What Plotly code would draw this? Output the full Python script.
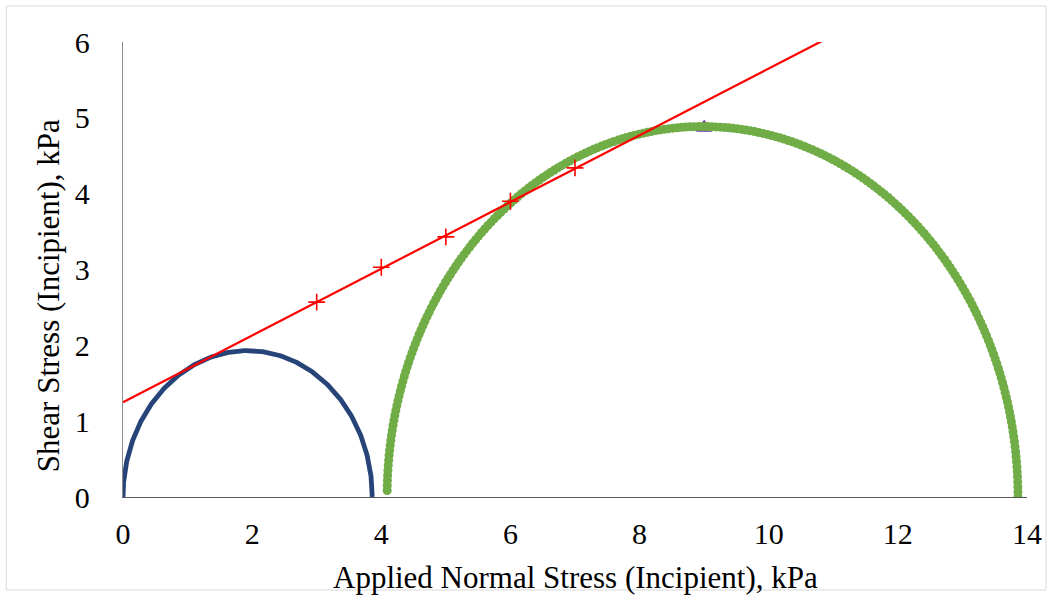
import numpy as np
import plotly.graph_objects as go

# Mohr circles: principal stresses (kPa)
blue_sigma = [0.0, 3.86]
green_sigma = [4.09, 13.86]

# Measured failure points (normal stress, shear stress)
fail_x = [3, 4, 5, 6, 7]
fail_y = [2.57, 3.03, 3.43, 3.90, 4.34]

# Failure envelope (trend line)
trend_intercept = 1.25
trend_slope = 0.44
trend_x = [0, 14]

# Peak marker
peak_x = [9]
peak_y = [4.87]

x_ticks = [0, 2, 4, 6, 8, 10, 12, 14]
y_ticks = [0, 1, 2, 3, 4, 5, 6]


def mohr(s3, s1, n, a0=0.0, a1=180.0):
    c = (s1 + s3) / 2
    r = (s1 - s3) / 2
    t = np.radians(np.linspace(a0, a1, n))
    return c + r * np.cos(t), r * np.sin(t)


bx, by = mohr(blue_sigma[0], blue_sigma[1], 300)
gx, gy = mohr(green_sigma[0], green_sigma[1], 230, 0, 179)
ty = [trend_intercept + trend_slope * v for v in trend_x]

FONT = "Liberation Serif, Times New Roman, serif"

fig = go.Figure()
fig.add_trace(go.Scatter(x=bx, y=by, mode="lines",
                         line=dict(color="#264478", width=4.8),
                         hoverinfo="skip"))
fig.add_trace(go.Scatter(x=peak_x, y=peak_y, mode="markers",
                         marker=dict(symbol="triangle-up-open", size=13,
                                     color="#7030A0", line=dict(width=1.8))))
fig.add_trace(go.Scatter(x=gx, y=gy, mode="markers",
                         marker=dict(symbol="circle", size=9, color="#70AD47")))
fig.add_trace(go.Scatter(x=trend_x, y=ty, mode="lines",
                         line=dict(color="#FF0000", width=2.2)))
fig.add_trace(go.Scatter(x=fail_x, y=fail_y, mode="markers",
                         marker=dict(symbol="cross-thin-open", size=12,
                                     color="#FF0000", line=dict(width=1.6, color="#FF0000"))))

fig.update_layout(
    width=1054, height=596,
    margin=dict(l=123, r=25, t=42, b=99),
    paper_bgcolor="white", plot_bgcolor="white",
    showlegend=False,
    font=dict(family=FONT, size=30, color="#000000"),
    xaxis=dict(range=[0, 14], tickvals=x_ticks, showgrid=False, zeroline=False,
               showline=True, linecolor="#595959", linewidth=1.3,
               ticks="", ticklabelstandoff=10,
               tickfont=dict(family=FONT, size=30)),
    yaxis=dict(range=[0, 6], tickvals=y_ticks, showgrid=False, zeroline=False,
               showline=True, linecolor="#8C8C8C", linewidth=1.3,
               ticks="", ticklabelstandoff=26,
               tickfont=dict(family=FONT, size=30)),
    annotations=[
        dict(text="Applied Normal Stress (Incipient), kPa", xref="paper", yref="paper",
             x=0.5, y=(497 - 577) / 455, xanchor="center", yanchor="middle",
             showarrow=False, font=dict(family=FONT, size=31)),
        dict(text="Shear Stress (Incipient), kPa", xref="paper", yref="paper",
             x=(48 - 123) / 906, y=(497 - 296) / 455, xanchor="center", yanchor="middle",
             textangle=-90, showarrow=False, font=dict(family=FONT, size=31)),
    ],
    shapes=[dict(type="rect", xref="paper", yref="paper",
                 x0=(6 - 123) / 906, x1=(1048 - 123) / 906,
                 y0=(497 - 590) / 455, y1=(497 - 6) / 455,
                 line=dict(color="#D9D9D9", width=1), layer="below")],
)

fig.write_html("out.html", config={"displayModeBar": False},
               post_script="document.body.style.margin='0px';")
